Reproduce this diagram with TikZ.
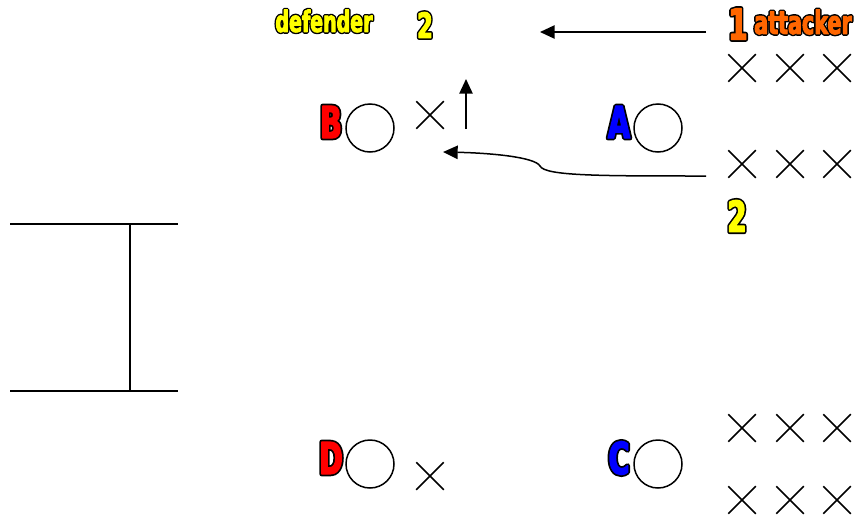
\documentclass[tikz,border=0pt]{standalone}
\usepackage{fontspec}
\usetikzlibrary{shapes.misc,arrows.meta}
\newfontfamily\lblfont{DejaVu Sans Condensed Bold}[FakeStretch=0.72,FakeBold=3]
\newfontfamily\lblfontS{DejaVu Sans Condensed Bold}[FakeStretch=0.72]
\definecolor{lblyellow}{RGB}{255,255,0}
\definecolor{lblorange}{RGB}{255,102,0}
\definecolor{lblred}{RGB}{255,0,0}
\definecolor{lblblue}{RGB}{0,0,255}
% #1 colour, #2 size, #3 outline stroke width (bp), #4 text
\newcommand\olbl[4]{{\fontsize{#2}{#2}\selectfont
  \rlap{\lblfontS\color{black}\special{pdf:literal direct 1 Tr #3 w 1 j}#4\special{pdf:literal direct 0 Tr}}%
  {\lblfont\color{#1}#4}}}
\tikzset{
  player/.style={circle,draw,line width=1.5pt*0.75,minimum size=36pt,inner sep=0pt},
  opp/.style={cross out,draw,line width=1.5pt*0.75,minimum size=19.5pt,inner sep=0pt},
  lbl/.style={inner sep=0pt},
  goal/.style={line width=2pt*0.75},
  arr/.style={line width=1.5pt*0.75,-{Triangle[length=11pt,width=10pt]}}
}
\begin{document}
\begin{tikzpicture}[x=0.75pt,y=-0.75pt]
\useasboundingbox (0,0) rectangle (857,518);
% goal
\coordinate (g1) at (10,224);
\coordinate (g2) at (178,224);
\coordinate (g3) at (10,391);
\coordinate (g4) at (178,391);
\coordinate (g5) at (130,224);
\coordinate (g6) at (130,391);
\draw[goal] (g1) -- (g2);
\draw[goal] (g3) -- (g4);
\draw[goal] (g5) -- (g6);
% labels
\node[lbl] (Blbl) at (331,122) {\olbl{lblred}{33pt}{3.6}{B}};
\node[lbl] (Albl) at (619,122) {\olbl{lblblue}{33pt}{3.6}{A}};
\node[lbl] (Dlbl) at (331,458) {\olbl{lblred}{33pt}{3.6}{D}};
\node[lbl] (Clbl) at (619,458) {\olbl{lblblue}{33pt}{3.6}{C}};
\node[lbl] (deflbl) at (324,21) {\olbl{lblyellow}{22pt}{2.8}{defender}};
\node[lbl] (two1) at (425,25) {\olbl{lblyellow}{26pt}{3}{2}};
\node[lbl] (one) at (738,24) {\olbl{lblorange}{32pt}{3.4}{1}};
\node[lbl] (attlbl) at (803,22) {\olbl{lblorange}{24pt}{2.9}{attacker}};
\node[lbl] (two2) at (737,216) {\olbl{lblyellow}{32pt}{3.4}{2}};
% players
\node[player] (B) at (370,128) {};
\node[player] (A) at (658,128) {};
\node[player] (D) at (370,464) {};
\node[player] (C) at (658,464) {};
% defenders
\node[opp] (xB) at (430,115) {};
\node[opp] (xD) at (430,476) {};
% attackers
\node[opp] (x11) at (742,68) {};
\node[opp] (x12) at (790,68) {};
\node[opp] (x13) at (837,68) {};
\node[opp] (x21) at (742,164) {};
\node[opp] (x22) at (790,164) {};
\node[opp] (x23) at (837,164) {};
\node[opp] (x31) at (742,428) {};
\node[opp] (x32) at (790,428) {};
\node[opp] (x33) at (837,428) {};
\node[opp] (x41) at (742,500) {};
\node[opp] (x42) at (790,500) {};
\node[opp] (x43) at (837,500) {};
% arrows
\coordinate (a1s) at (706,32);
\coordinate (a1e) at (540,32);
\draw[arr] (a1s) -- (a1e);
\coordinate (a2s) at (466,129);
\coordinate (a2e) at (466,79);
\draw[arr] (a2s) -- (a2e);
\coordinate (a3s) at (706,176);
\coordinate (a3m) at (540,166);
\coordinate (a3e) at (443,152);
\draw[arr] (a3s) .. controls (600,176) and (545,176) .. (a3m) .. controls (535,157) and (490,153) .. (a3e);
\end{tikzpicture}
\end{document}
